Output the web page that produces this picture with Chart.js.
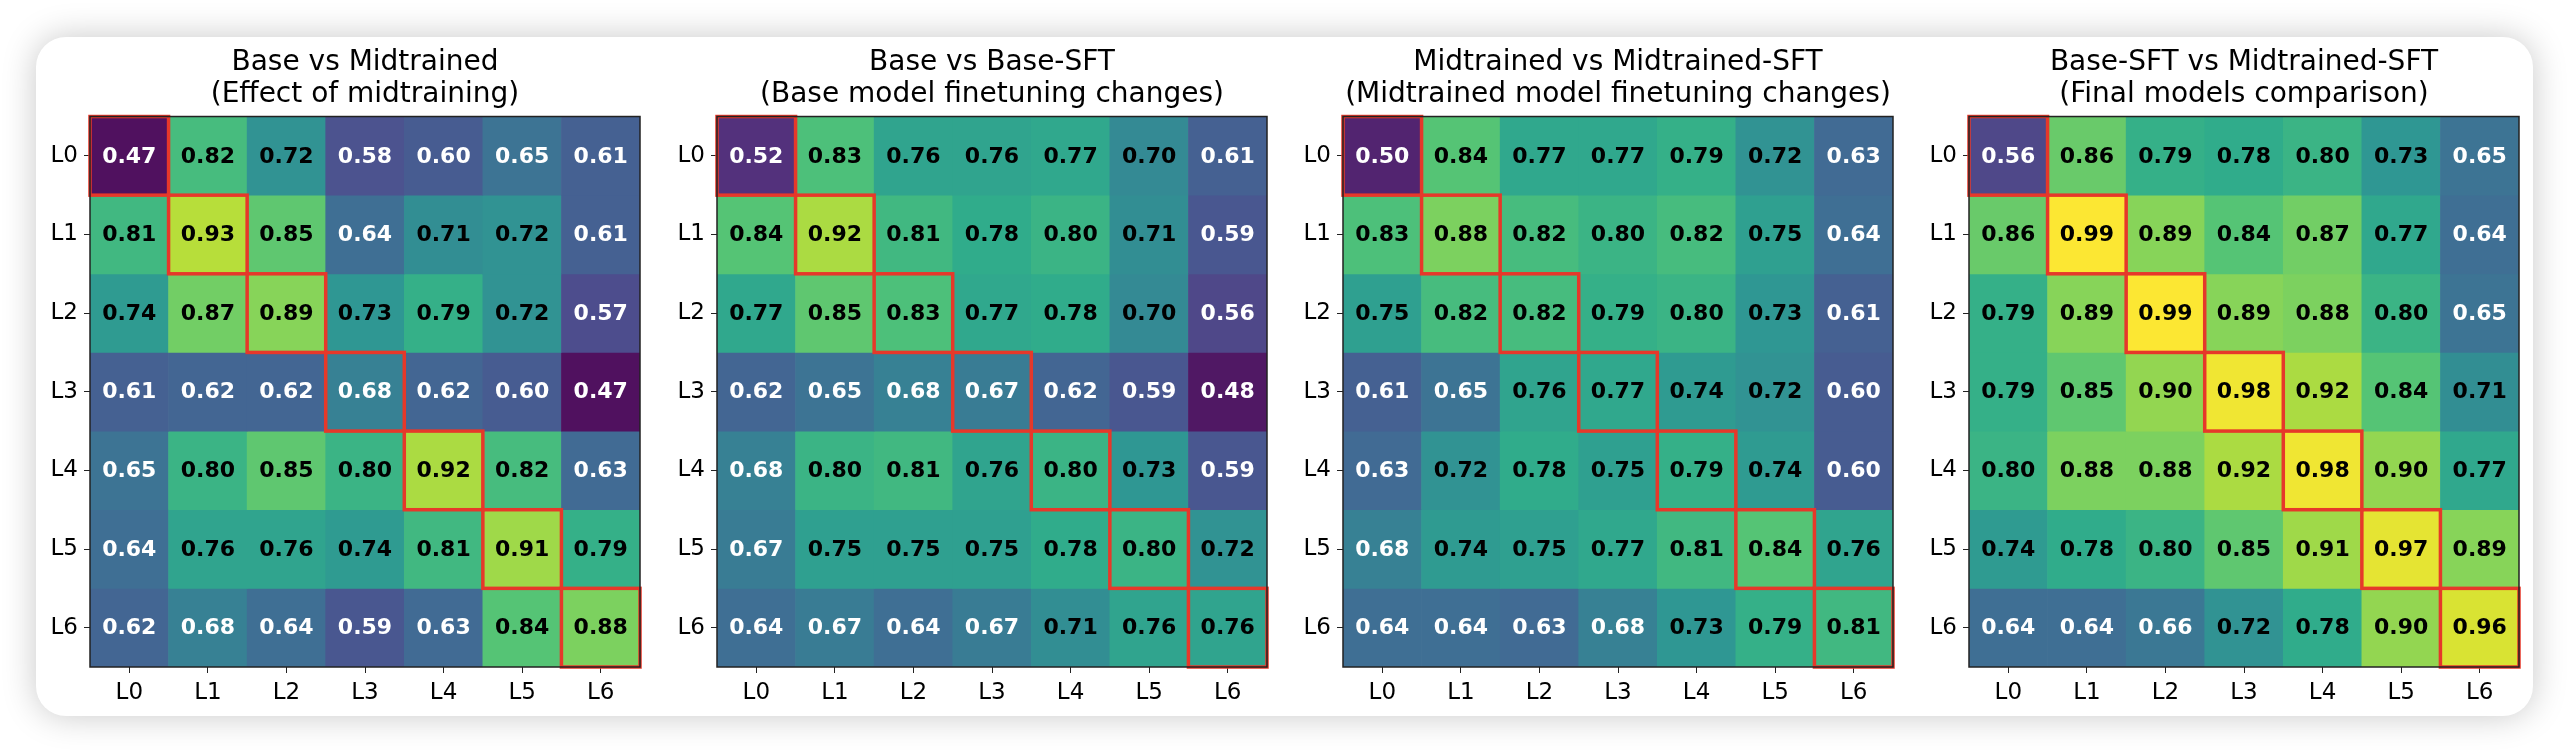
<!DOCTYPE html>
<html>
<head>
<meta charset="utf-8">
<script src="https://cdn.jsdelivr.net/npm/chart.js@4.4.1/dist/chart.umd.min.js"></script>
<style>
  html, body { margin: 0; padding: 0; background: #ffffff; }
  body { width: 2572px; height: 754px; position: relative; overflow: hidden; }
  #card {
    position: absolute; left: 36px; top: 37px; width: 2497px; height: 679px;
    background: #ffffff; border-radius: 30px;
    box-shadow: 0 0 34px rgba(0, 0, 0, 0.22);
  }
  canvas { position: absolute; top: 37px; }
</style>
</head>
<body>
<div id="card"></div>
<canvas id="c0" width="620" height="679"></canvas>
<canvas id="c1" width="620" height="679"></canvas>
<canvas id="c2" width="620" height="679"></canvas>
<canvas id="c3" width="620" height="679"></canvas>
<script>
// layer labels (rows and columns)
const layers = ["L0", "L1", "L2", "L3", "L4", "L5", "L6"];

// panel titles
const titles = [
  ["Base vs Midtrained", "(Effect of midtraining)"],
  ["Base vs Base-SFT", "(Base model finetuning changes)"],
  ["Midtrained vs Midtrained-SFT", "(Midtrained model finetuning changes)"],
  ["Base-SFT vs Midtrained-SFT", "(Final models comparison)"],
];

// similarity matrices, one row per layer
const baseVsMid = [
  [0.47, 0.82, 0.72, 0.58, 0.60, 0.65, 0.61],
  [0.81, 0.93, 0.85, 0.64, 0.71, 0.72, 0.61],
  [0.74, 0.87, 0.89, 0.73, 0.79, 0.72, 0.57],
  [0.61, 0.62, 0.62, 0.68, 0.62, 0.60, 0.47],
  [0.65, 0.80, 0.85, 0.80, 0.92, 0.82, 0.63],
  [0.64, 0.76, 0.76, 0.74, 0.81, 0.91, 0.79],
  [0.62, 0.68, 0.64, 0.59, 0.63, 0.84, 0.88],
];
const baseVsBaseSft = [
  [0.52, 0.83, 0.76, 0.76, 0.77, 0.70, 0.61],
  [0.84, 0.92, 0.81, 0.78, 0.80, 0.71, 0.59],
  [0.77, 0.85, 0.83, 0.77, 0.78, 0.70, 0.56],
  [0.62, 0.65, 0.68, 0.67, 0.62, 0.59, 0.48],
  [0.68, 0.80, 0.81, 0.76, 0.80, 0.73, 0.59],
  [0.67, 0.75, 0.75, 0.75, 0.78, 0.80, 0.72],
  [0.64, 0.67, 0.64, 0.67, 0.71, 0.76, 0.76],
];
const midVsMidSft = [
  [0.50, 0.84, 0.77, 0.77, 0.79, 0.72, 0.63],
  [0.83, 0.88, 0.82, 0.80, 0.82, 0.75, 0.64],
  [0.75, 0.82, 0.82, 0.79, 0.80, 0.73, 0.61],
  [0.61, 0.65, 0.76, 0.77, 0.74, 0.72, 0.60],
  [0.63, 0.72, 0.78, 0.75, 0.79, 0.74, 0.60],
  [0.68, 0.74, 0.75, 0.77, 0.81, 0.84, 0.76],
  [0.64, 0.64, 0.63, 0.68, 0.73, 0.79, 0.81],
];
const baseSftVsMidSft = [
  [0.56, 0.86, 0.79, 0.78, 0.80, 0.73, 0.65],
  [0.86, 0.99, 0.89, 0.84, 0.87, 0.77, 0.64],
  [0.79, 0.89, 0.99, 0.89, 0.88, 0.80, 0.65],
  [0.79, 0.85, 0.90, 0.98, 0.92, 0.84, 0.71],
  [0.80, 0.88, 0.88, 0.92, 0.98, 0.90, 0.77],
  [0.74, 0.78, 0.80, 0.85, 0.91, 0.97, 0.89],
  [0.64, 0.64, 0.66, 0.72, 0.78, 0.90, 0.96],
];

const matrices = [baseVsMid, baseVsBaseSft, midVsMidSft, baseSftVsMidSft];

// shared colour range over all panels
const allValues = matrices.flat(2);
const vmin = Math.min(...allValues);
const vmax = Math.max(...allValues);
const textThreshold = 0.7;

// viridis stops
const viridis = [
  [68, 1, 84], [72, 36, 117], [65, 68, 135], [53, 95, 141], [42, 120, 142],
  [33, 145, 140], [34, 168, 132], [68, 191, 112], [122, 209, 81],
  [189, 223, 38], [253, 231, 37],
];
const cellAlpha = 0.93;

function colorFor(v) {
  let t = (v - vmin) / (vmax - vmin);
  t = Math.max(0, Math.min(1, t)) * (viridis.length - 1);
  const i = Math.min(Math.floor(t), viridis.length - 2);
  const f = t - i;
  const c = viridis[i].map((a, k) => a + (viridis[i + 1][k] - a) * f);
  const m = c.map((a) => Math.round(a * cellAlpha + 235 * (1 - cellAlpha)));
  return "rgb(" + m.join(",") + ")";
}

const FONT = "'DejaVu Sans', sans-serif";

// draws cell values, the diagonal boxes and the frame
const heatmapPlugin = {
  id: "heatmap",
  afterDatasetsDraw(chart) {
    const ctx = chart.ctx;
    const values = chart.config.options.plugins.heatmap.values;
    ctx.save();
    ctx.font = "bold 22px " + FONT;
    ctx.textAlign = "center";
    ctx.textBaseline = "middle";
    chart.data.datasets.forEach((ds, i) => {
      const meta = chart.getDatasetMeta(i);
      meta.data.forEach((bar, j) => {
        const v = values[i][j];
        ctx.fillStyle = v < textThreshold ? "#ffffff" : "#000000";
        ctx.fillText(v.toFixed(2), bar.x, (bar.y + bar.base) / 2 + 1);
      });
    });
    // diagonal highlight
    ctx.strokeStyle = "#e6382a";
    ctx.lineWidth = 3.5;
    chart.data.datasets.forEach((ds, i) => {
      const bar = chart.getDatasetMeta(i).data[i];
      const top = Math.min(bar.y, bar.base);
      const h = Math.abs(bar.base - bar.y);
      ctx.strokeRect(bar.x - bar.width / 2, top, bar.width, h);
    });
    // axes frame
    const a = chart.chartArea;
    ctx.strokeStyle = "#222222";
    ctx.lineWidth = 1.5;
    ctx.strokeRect(a.left, a.top, a.right - a.left, a.bottom - a.top);
    ctx.restore();
  },
};

const panelLefts = [90, 717, 1343, 1969];

matrices.forEach((values, p) => {
  const canvas = document.getElementById("c" + p);
  canvas.style.left = panelLefts[p] - 60 + "px";

  new Chart(canvas, {
    type: "bar",
    data: {
      labels: layers,
      datasets: values.map((row, i) => ({
        label: layers[i],
        data: row.map(() => [i - 0.5, i + 0.5]),
        backgroundColor: row.map(colorFor),
        borderWidth: 0,
        barPercentage: 1,
        categoryPercentage: 1,
        grouped: false,
      })),
    },
    options: {
      responsive: false,
      animation: false,
      devicePixelRatio: 1,
      layout: { padding: { left: 0, right: 10, top: 0, bottom: 0 } },
      plugins: {
        legend: { display: false },
        tooltip: { enabled: false },
        title: {
          display: true,
          text: titles[p],
          fullSize: false,
          color: "#000000",
          font: { family: FONT, size: 28, weight: "normal", lineHeight: 1.17 },
          padding: { top: 9, bottom: 5 },
        },
        heatmap: { values: values },
      },
      scales: {
        x: {
          type: "category",
          grid: {
            display: true, drawOnChartArea: false, drawTicks: true,
            tickLength: 6, color: "#222222", offset: false,
          },
          border: { display: false },
          ticks: { color: "#000000", font: { family: FONT, size: 23 }, padding: 6, maxRotation: 0 },
          afterFit: (axis) => { axis.height = 49; },
        },
        y: {
          type: "linear",
          min: -0.5,
          max: 6.5,
          reverse: true,
          grid: {
            display: true, drawOnChartArea: false, drawTicks: true,
            tickLength: 6, color: "#222222",
          },
          border: { display: false },
          afterBuildTicks: (axis) => {
            axis.ticks = layers.map((l, i) => ({ value: i }));
          },
          ticks: {
            color: "#000000",
            font: { family: FONT, size: 23 },
            padding: 6,
            callback: (v) => layers[v],
          },
          afterFit: (axis) => { axis.width = 60; },
        },
      },
    },
    plugins: [heatmapPlugin],
  });
});
</script>
</body>
</html>
